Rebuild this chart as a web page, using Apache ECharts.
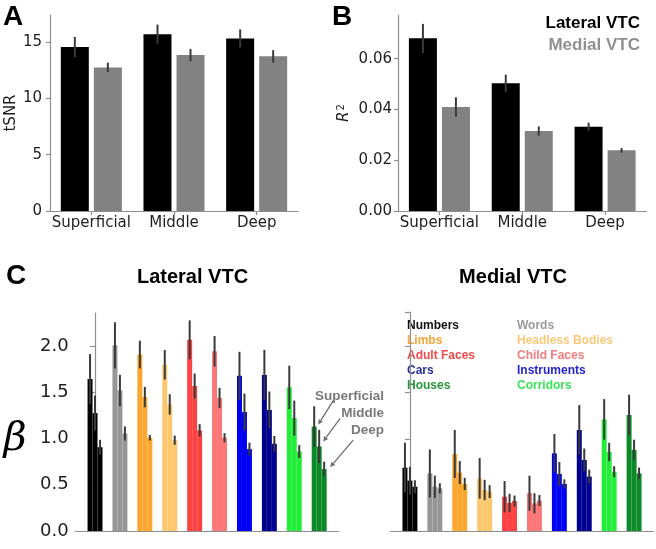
<!DOCTYPE html>
<html><head><meta charset="utf-8">
<script src="https://cdn.jsdelivr.net/npm/echarts@6/dist/echarts.min.js"></script>
<style>html,body{margin:0;padding:0;background:#fff}#c{width:656px;height:549px}</style>
</head><body><div id="c"></div><script>
// ---------- data ----------
const layers = ['Superficial', 'Middle', 'Deep'];
const regions = ['Lateral VTC', 'Medial VTC'];

const tsnrLateral = [14.55, 15.70, 15.32];
const tsnrLateralErr = [0.90, 0.85, 0.80];
const tsnrMedial = [12.75, 13.84, 13.73];
const tsnrMedialErr = [0.42, 0.55, 0.55];
const tsnrTicks = [0, 5, 10, 15];

const r2Lateral = [0.0680, 0.0503, 0.0332];
const r2LateralErr = [0.0057, 0.0034, 0.0016];
const r2Medial = [0.0410, 0.0315, 0.0239];
const r2MedialErr = [0.0038, 0.0018, 0.0009];
const r2Ticks = [0.00, 0.02, 0.04, 0.06];

const categories = ['Numbers', 'Words', 'Limbs', 'Headless Bodies', 'Adult Faces',
  'Child Faces', 'Cars', 'Instruments', 'Houses', 'Corridors'];
const barColors = ['#000000', '#969696', '#FBA62D', '#FDC86D', '#FC4343',
  '#FC7878', '#0000F5', '#000090', '#22EE3A', '#0C8A28'];
const legendColors = ['#111111', '#9a9a9a', '#F7A535', '#FCC97A', '#F04A4A',
  '#F27D7D', '#2B2F9A', '#2424D0', '#27963A', '#3BE35A'];
const betaTicks = [0.0, 0.5, 1.0, 1.5, 2.0];

// Lateral VTC betas
const latSup = [1.645, 2.01, 1.91, 1.80, 2.07, 1.945, 1.68, 1.69, 1.555, 1.13];
const latSupErr = [0.27, 0.25, 0.15, 0.16, 0.21, 0.165, 0.26, 0.27, 0.235, 0.22];
const latMid = [1.276, 1.52, 1.45, 1.37, 1.569, 1.44, 1.287, 1.31, 1.222, 0.915];
const latMidErr = [0.19, 0.17, 0.11, 0.11, 0.135, 0.11, 0.20, 0.20, 0.19, 0.18];
const latDeep = [0.907, 1.056, 1.01, 0.983, 1.09, 1.01, 0.886, 0.944, 0.86, 0.67];
const latDeepErr = [0.08, 0.076, 0.03, 0.05, 0.067, 0.05, 0.07, 0.085, 0.07, 0.08];

// Medial VTC betas
const medSup = [0.687, 0.625, 0.835, 0.571, 0.372, 0.41, 0.842, 1.095, 1.21, 1.258];
const medSupErr = [0.27, 0.26, 0.26, 0.22, 0.17, 0.19, 0.21, 0.27, 0.22, 0.22];
const medMid = [0.546, 0.48, 0.633, 0.445, 0.304, 0.30, 0.618, 0.77, 0.857, 0.88];
const medMidErr = [0.15, 0.12, 0.125, 0.11, 0.10, 0.11, 0.13, 0.125, 0.10, 0.11];
const medDeep = [0.48, 0.463, 0.51, 0.427, 0.325, 0.33, 0.51, 0.59, 0.643, 0.625];
const medDeepErr = [0.07, 0.055, 0.067, 0.07, 0.06, 0.06, 0.05, 0.075, 0.06, 0.063];

// ---------- build ----------
const AX = '#8f8f8f', TXT = '#1e1e1e', ERR = '#3a3a3a';
const FONT = 'DejaVu Sans';
const layerOffset = [-0.2, 0, 0.2], barHalf = 0.1;

function betaData(vals, errs) {
  const out = [];
  categories.forEach((c, ci) => {
    vals.forEach((arr, li) => out.push([ci + layerOffset[li], arr[ci], errs[li][ci], ci]));
  });
  return out;
}
function betaRender(params, api) {
  const x = api.value(0), v = api.value(1), e = api.value(2), ci = api.value(3);
  const p0 = api.coord([x - barHalf, 0]), p1 = api.coord([x + barHalf, v]);
  const lo = api.coord([x, v - e]), hi = api.coord([x, v + e]);
  return {type: 'group', children: [
    {type: 'rect', shape: {x: p0[0], y: p1[1], width: p1[0] - p0[0], height: p0[1] - p1[1]},
      style: {fill: barColors[ci]}},
    {type: 'line', shape: {x1: lo[0], y1: lo[1], x2: hi[0], y2: hi[1]},
      style: {stroke: ERR, lineWidth: 2}}
  ]};
}
function errData(vals, errs, side) {
  return vals.map((v, i) => [i, v, errs[i], side]);
}
function errRender(params, api) {
  const i = api.value(0), v = api.value(1), e = api.value(2), side = api.value(3);
  const lo = api.coord([i, v - e]), hi = api.coord([i, v + e]);
  const x = lo[0] + side * 16.5;
  return {type: 'line', shape: {x1: x, y1: lo[1], x2: x, y2: hi[1]},
    style: {stroke: ERR, lineWidth: 2}};
}

const axisLine = {show: true, lineStyle: {color: AX, width: 1.2}};
const axisTick = {show: true, length: 4, lineStyle: {color: AX, width: 1.2}};
const catLabel = {fontFamily: FONT, fontSize: 15, color: TXT, margin: 5, interval: 0, hideOverlap: false};

const option = {
  animation: false,
  backgroundColor: '#fff',
  grid: [
    {left: 50, top: 15, width: 248, height: 196},
    {left: 398, top: 15, width: 248.5, height: 196},
    {left: 75.6, top: 313, width: 263, height: 218},
    {left: 390.5, top: 312, width: 263, height: 219}
  ],
  xAxis: [
    {gridIndex: 0, type: 'category', data: layers, axisLine,
      axisTick: Object.assign({alignWithLabel: true, interval: 0}, axisTick), axisLabel: catLabel},
    {gridIndex: 1, type: 'category', data: layers, axisLine,
      axisTick: Object.assign({alignWithLabel: true, interval: 0}, axisTick), axisLabel: catLabel},
    {gridIndex: 2, type: 'value', min: -0.78, max: 9.78, axisLine, axisTick: {show: false},
      axisLabel: {show: false}, splitLine: {show: false}},
    {gridIndex: 3, type: 'value', min: -0.78, max: 9.78, axisLine, axisTick: {show: false},
      axisLabel: {show: false}, splitLine: {show: false}}
  ],
  yAxis: [
    {gridIndex: 0, type: 'value', min: tsnrTicks[0], max: 17.4, interval: tsnrTicks[1] - tsnrTicks[0],
      axisLine, axisTick, splitLine: {show: false},
      axisLabel: {fontFamily: FONT, fontSize: 15, color: TXT, margin: 8, showMaxLabel: false},
      name: 'tSNR', nameLocation: 'middle', nameRotate: 90, nameGap: 28,
      nameTextStyle: {fontFamily: FONT, fontSize: 15, color: TXT}},
    {gridIndex: 1, type: 'value', min: r2Ticks[0], max: 0.0772, interval: r2Ticks[1] - r2Ticks[0],
      axisLine, axisTick, splitLine: {show: false},
      axisLabel: {fontFamily: FONT, fontSize: 15, color: TXT, margin: 6, showMaxLabel: false,
        formatter: v => v.toFixed(2)},
      name: '{r|R}{s|2}', nameLocation: 'middle', nameRotate: 90, nameGap: 46,
      nameTextStyle: {rich: {
        r: {fontFamily: FONT, fontStyle: 'italic', fontSize: 15, color: TXT},
        s: {fontFamily: FONT, fontSize: 10, color: TXT, verticalAlign: 'top', padding: [0, 0, 6, 1]}}}},
    {gridIndex: 2, type: 'value', min: betaTicks[0], max: 2.36, interval: betaTicks[1] - betaTicks[0],
      axisLine, axisTick: Object.assign({}, axisTick, {length: 5}), splitLine: {show: false},
      axisLabel: {fontFamily: FONT, fontSize: 18, color: TXT, margin: 7, showMaxLabel: false,
        formatter: v => v.toFixed(1)}},
    {gridIndex: 3, type: 'value', min: betaTicks[0], max: 2.375, interval: betaTicks[1] - betaTicks[0],
      axisLine, axisTick: Object.assign({}, axisTick, {length: 5}), splitLine: {show: false},
      axisLabel: {show: false}}
  ],
  series: [
    {type: 'bar', name: regions[0], xAxisIndex: 0, yAxisIndex: 0, data: tsnrLateral,
      barWidth: 28, barGap: '18%', itemStyle: {color: '#000'}},
    {type: 'bar', name: regions[1], xAxisIndex: 0, yAxisIndex: 0, data: tsnrMedial,
      barWidth: 28, barGap: '18%', itemStyle: {color: '#828282'}},
    {type: 'custom', xAxisIndex: 0, yAxisIndex: 0, renderItem: errRender, z: 5,
      data: errData(tsnrLateral, tsnrLateralErr, -1).concat(errData(tsnrMedial, tsnrMedialErr, 1))},
    {type: 'bar', name: regions[0], xAxisIndex: 1, yAxisIndex: 1, data: r2Lateral,
      barWidth: 28, barGap: '18%', itemStyle: {color: '#000'}},
    {type: 'bar', name: regions[1], xAxisIndex: 1, yAxisIndex: 1, data: r2Medial,
      barWidth: 28, barGap: '18%', itemStyle: {color: '#828282'}},
    {type: 'custom', xAxisIndex: 1, yAxisIndex: 1, renderItem: errRender, z: 5,
      data: errData(r2Lateral, r2LateralErr, -1).concat(errData(r2Medial, r2MedialErr, 1))},
    {type: 'custom', xAxisIndex: 2, yAxisIndex: 2, renderItem: betaRender,
      data: betaData([latSup, latMid, latDeep], [latSupErr, latMidErr, latDeepErr])},
    {type: 'custom', xAxisIndex: 3, yAxisIndex: 3, renderItem: betaRender,
      data: betaData([medSup, medMid, medDeep], [medSupErr, medMidErr, medDeepErr])}
  ]
};

const chart = echarts.init(document.getElementById('c'));
chart.setOption(option);

// ---------- text & annotations ----------
const g = [];
const letter = (t, x, y) => ({type: 'text', left: x, top: y,
  style: {text: t, font: 'bold 28px "Liberation Sans"', fill: '#000'}});
g.push(letter('A', 3, 3), letter('B', 332, 3), letter('C', 6, 262));
g.push({type: 'text', x: 640, y: 23, style: {text: regions[0], font: 'bold 17px "Liberation Sans"',
  fill: '#000', align: 'right', verticalAlign: 'middle'}});
g.push({type: 'text', x: 640, y: 45, style: {text: regions[1], font: 'bold 17px "Liberation Sans"',
  fill: '#909090', align: 'right', verticalAlign: 'middle'}});
g.push({type: 'text', x: 192.5, y: 277, style: {text: regions[0], font: 'bold 20px "Liberation Sans"',
  fill: '#000', align: 'center', verticalAlign: 'middle'}});
g.push({type: 'text', x: 513, y: 277, style: {text: regions[1], font: 'bold 20px "Liberation Sans"',
  fill: '#000', align: 'center', verticalAlign: 'middle'}});
g.push({type: 'text', x: 15, y: 440, style: {text: 'β', font: 'italic 40px "DejaVu Serif"',
  fill: '#000', align: 'center', verticalAlign: 'middle'}});
// category legend (two columns)
categories.forEach((c, i) => {
  const col = i % 2, row = Math.floor(i / 2);
  g.push({type: 'text', x: col ? 517 : 407, y: 326 + row * 15,
    style: {text: c, font: 'bold 12px "Liberation Sans"', fill: legendColors[i], verticalAlign: 'middle'}});
});
// layer annotation with arrows on the last Lateral category
const last = categories.length - 1;
const latVals = [latSup, latMid, latDeep];
const textY = [396, 413, 430];
const tailOff = [[15, -24], [17, -23], [23, -27]];
const tipOff = [[4, -2], [4, -5], [6, -2]];
layers.forEach((name, li) => {
  g.push({type: 'text', x: 384, y: textY[li], style: {text: name, font: 'bold 13.5px "Liberation Sans"',
    fill: '#7a7a7a', align: 'right', verticalAlign: 'middle'}});
  const p = chart.convertToPixel({gridIndex: 2}, [last + layerOffset[li], latVals[li][last]]);
  const tip = [p[0] + tipOff[li][0], p[1] + tipOff[li][1]];
  const tail = [tip[0] + tailOff[li][0], tip[1] + tailOff[li][1]];
  const dx = tip[0] - tail[0], dy = tip[1] - tail[1], L = Math.hypot(dx, dy);
  const ux = dx / L, uy = dy / L, h = 5, w = 2.5;
  const b = [tip[0] - ux * h, tip[1] - uy * h];
  g.push({type: 'line', shape: {x1: tail[0], y1: tail[1], x2: b[0], y2: b[1]},
    style: {stroke: '#6f6f6f', lineWidth: 1.3}});
  g.push({type: 'polygon', shape: {points: [tip, [b[0] - uy * w, b[1] + ux * w], [b[0] + uy * w, b[1] - ux * w]]},
    style: {fill: '#6f6f6f'}});
});
chart.setOption({graphic: g});
</script></body></html>
